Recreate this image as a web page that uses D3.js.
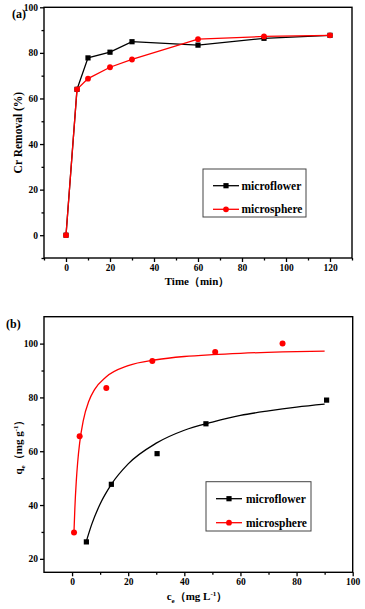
<!DOCTYPE html>
<html>
<head>
<meta charset="utf-8">
<script src="https://cdn.jsdelivr.net/npm/d3@7"></script>
<style>
  body { margin: 0; background: #fff; }
  svg text { font-family: "Liberation Serif", "Times New Roman", serif; font-weight: bold; }
</style>
</head>
<body>
<div class="chart"></div>
<script>
// panel (a) kinetics data
var timeA = [0, 5, 10, 20, 30, 60, 90, 120];
var flowerA = [0, 64, 77.8, 80.3, 84.9, 83.4, 86.4, 87.7];
var sphereA = [0, 64, 68.7, 73.7, 77.1, 86, 87.2, 87.7];

// panel (b) isotherm data
var ceFlower = [5.1, 14, 30.3, 47.7, 90.7];
var qeFlower = [26.3, 47.7, 59.1, 70.2, 79];
var ceSphere = [0.7, 2.7, 12.2, 28.6, 51, 75];
var qeSphere = [29.8, 65.6, 83.5, 93.5, 96.9, 100];

// fitted curves
var fitFlowerC = [5, 7, 10, 14, 20, 30, 40, 50, 60, 70, 80, 90];
var fitFlowerQ = [26.2, 32.8, 40.4, 47.7, 55.3, 63, 67.8, 70.8, 73.3, 75, 76.4, 77.5];
var fitSphereC = [0.7, 1, 1.5, 2, 2.7, 4, 6, 8, 12, 20, 30, 40, 50, 60, 75, 90];
var fitSphereQ = [30.5, 38.9, 48.8, 55.9, 63, 71.4, 78.7, 82.9, 87.5, 91.8, 94, 95.2, 95.9, 96.4, 96.9, 97.2];

var seriesNames = ["microflower", "microsphere"];
var seriesColors = ["#000000", "#ff0000"];

var svgWidth = 365, svgHeight = 609;
var svg = d3.select(".chart").append("svg")
  .attr("width", svgWidth)
  .attr("height", svgHeight);

function zipXY(xs, ys) { return xs.map((x, i) => [x, ys[i]]); }

// draws a framed panel with ticks outside on left and bottom
function drawFrame(g, x, y, xMajor, xMinor, yMajor, yMinor) {
  var x0 = x.range()[0], x1 = x.range()[1];
  var y0 = y.range()[0], y1 = y.range()[1];

  var bottomAxis = d3.axisBottom(x).tickValues(xMajor).tickSize(4).tickPadding(2).tickFormat(d3.format("d"));
  var leftAxis = d3.axisLeft(y).tickValues(yMajor).tickSize(4).tickPadding(2).tickFormat(d3.format("d"));

  g.append("g").attr("transform", `translate(0,${y0})`).call(bottomAxis);
  g.append("g").attr("transform", `translate(${x0},0)`).call(leftAxis);

  g.append("g").attr("transform", `translate(0,${y0})`)
    .call(d3.axisBottom(x).tickValues(xMinor).tickSize(2.5).tickFormat(""));
  g.append("g").attr("transform", `translate(${x0},0)`)
    .call(d3.axisLeft(y).tickValues(yMinor).tickSize(2.5).tickFormat(""));

  g.selectAll(".domain").remove();
  g.selectAll(".tick line").attr("stroke", "#000").attr("stroke-width", 1.3);
  g.selectAll(".tick text").attr("font-size", "9.5px").attr("fill", "#000");

  g.append("rect")
    .attr("x", x0).attr("y", y1)
    .attr("width", x1 - x0).attr("height", y0 - y1)
    .attr("fill", "none").attr("stroke", "#000").attr("stroke-width", 1.4);
}

function drawMarker(g, kind, cx, cy, color, size) {
  if (kind === 0) {
    g.append("rect")
      .attr("x", cx - size / 2).attr("y", cy - size / 2)
      .attr("width", size).attr("height", size)
      .attr("fill", color);
  } else {
    g.append("circle")
      .attr("cx", cx).attr("cy", cy).attr("r", size / 2 + 0.3)
      .attr("fill", color);
  }
}

function drawLegend(g, bx, by, bw, bh, lx, textX, rows, size) {
  g.append("rect")
    .attr("x", bx).attr("y", by).attr("width", bw).attr("height", bh)
    .attr("fill", "#fff").attr("stroke", "#444").attr("stroke-width", 1);
  seriesNames.forEach(function (name, i) {
    var yy = rows[i];
    g.append("line")
      .attr("x1", lx).attr("x2", lx + 26).attr("y1", yy).attr("y2", yy)
      .attr("stroke", seriesColors[i]).attr("stroke-width", 1.3);
    drawMarker(g, i, lx + 13, yy, seriesColors[i], size);
    g.append("text")
      .attr("x", textX).attr("y", yy + 4)
      .attr("font-size", "11.5px")
      .text(name);
  });
}

// ---------------- panel (a) ----------------
var gA = svg.append("g");
var xA = d3.scaleLinear().domain([-10, 130]).range([44, 352]);
var yA = d3.scaleLinear().domain([-10, 100]).range([258, 7.3]);

drawFrame(gA, xA, yA,
  [0, 20, 40, 60, 80, 100, 120], [-10, 10, 30, 50, 70, 90, 110, 130],
  [0, 20, 40, 60, 80, 100], [-10, 10, 30, 50, 70, 90]);

var lineA = d3.line().x(d => xA(d[0])).y(d => yA(d[1]));
[flowerA, sphereA].forEach(function (vals, i) {
  var pts = zipXY(timeA, vals);
  gA.append("path")
    .attr("d", lineA(pts))
    .attr("fill", "none")
    .attr("stroke", seriesColors[i])
    .attr("stroke-width", 1.3);
  pts.forEach(p => drawMarker(gA, i, xA(p[0]), yA(p[1]), seriesColors[i], 5.2));
});

gA.append("text").attr("x", 12).attr("y", 18).attr("font-size", "12px").text("(a)");
gA.append("text")
  .attr("transform", `translate(21.5,${(7.3 + 258) / 2}) rotate(-90)`)
  .attr("text-anchor", "middle")
  .attr("font-size", "11.5px")
  .text("Cr Removal (%)");
gA.append("text")
  .attr("x", 197).attr("y", 285)
  .attr("text-anchor", "middle")
  .attr("font-size", "11px")
  .text("Time（min）");

drawLegend(gA, 203, 169, 103, 48, 213, 241.5, [185.7, 209.3], 5.2);

// ---------------- panel (b) ----------------
var gB = svg.append("g");
var xB = d3.scaleLinear().domain([-10, 100]).range([44, 352.7]);
var yB = d3.scaleLinear().domain([15, 110]).range([572.3, 316.7]);

drawFrame(gB, xB, yB,
  [0, 20, 40, 60, 80, 100], [10, 30, 50, 70, 90],
  [20, 40, 60, 80, 100], [30, 50, 70, 90]);

var lineB = d3.line().x(d => xB(d[0])).y(d => yB(d[1])).curve(d3.curveMonotoneX);
gB.append("path")
  .attr("d", lineB(zipXY(fitFlowerC, fitFlowerQ)))
  .attr("fill", "none").attr("stroke", seriesColors[0]).attr("stroke-width", 1.3);
gB.append("path")
  .attr("d", lineB(zipXY(fitSphereC, fitSphereQ)))
  .attr("fill", "none").attr("stroke", seriesColors[1]).attr("stroke-width", 1.3);

zipXY(ceFlower, qeFlower).forEach(p => drawMarker(gB, 0, xB(p[0]), yB(p[1]), seriesColors[0], 5.2));
zipXY(ceSphere, qeSphere).forEach(p => drawMarker(gB, 1, xB(p[0]), yB(p[1]), seriesColors[1], 5.4));

gB.append("text").attr("x", 6).attr("y", 328).attr("font-size", "12px").text("(b)");

var yLab = gB.append("text")
  .attr("transform", `translate(21.5,${(316.7 + 572.3) / 2}) rotate(-90)`)
  .attr("text-anchor", "middle")
  .attr("font-size", "11px");
yLab.append("tspan").text("q");
yLab.append("tspan").attr("font-size", "7px").attr("dy", 3).text("e");
yLab.append("tspan").attr("dy", -3).text("（mg g");
yLab.append("tspan").attr("font-size", "7px").attr("dy", -4).text("-1");
yLab.append("tspan").attr("dy", 4).text("）");

var xLab = gB.append("text")
  .attr("x", 197).attr("y", 600)
  .attr("text-anchor", "middle")
  .attr("font-size", "11px");
xLab.append("tspan").text("c");
xLab.append("tspan").attr("font-size", "7px").attr("dy", 3).text("e");
xLab.append("tspan").attr("dy", -3).text("（mg L");
xLab.append("tspan").attr("font-size", "7px").attr("dy", -4).text("-1");
xLab.append("tspan").attr("dy", 4).text("）");

drawLegend(gB, 206, 481.7, 105, 49.3, 216, 246, [498.7, 522.7], 5.2);
</script>
</body>
</html>
